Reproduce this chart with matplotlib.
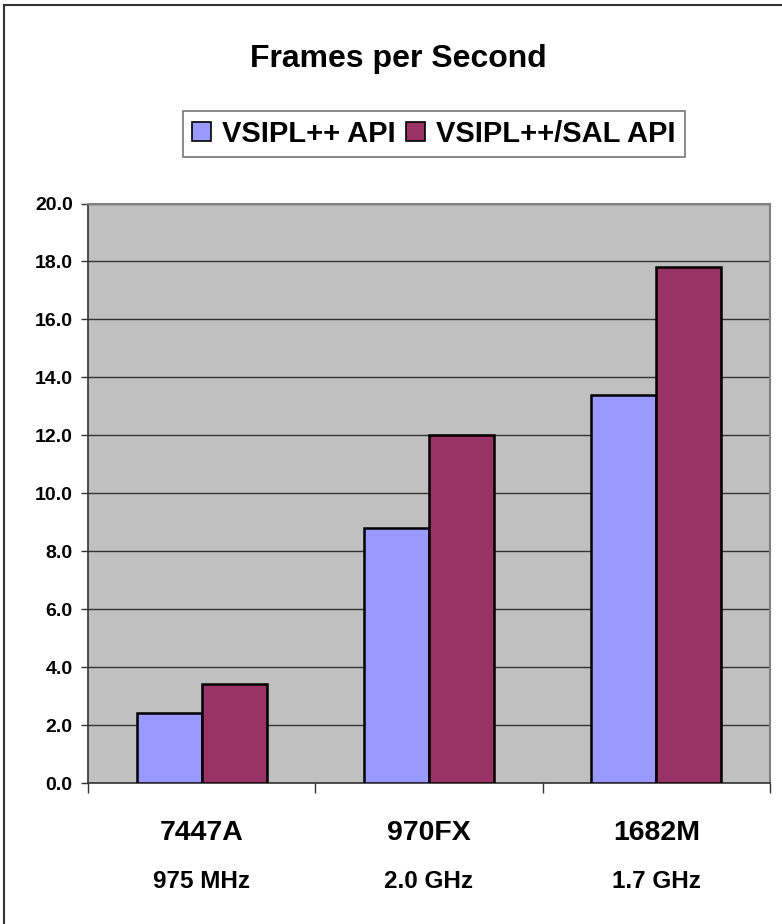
import numpy as np
import matplotlib.pyplot as plt
from matplotlib.patches import Patch
from matplotlib.lines import Line2D

plt.rcParams['font.family'] = ['Liberation Sans', 'DejaVu Sans']
plt.rcParams['font.weight'] = 'bold'

# data
chips = ['7447A', '970FX', '1682M']
clocks = ['975 MHz', '2.0 GHz', '1.7 GHz']
series_names = ['VSIPL++ API', 'VSIPL++/SAL API']
vsipl = [2.4, 8.8, 13.4]
vsipl_sal = [3.4, 12.0, 17.8]
yticks = np.arange(0, 20.1, 2.0)

colors = ['#9999FF', '#993366']


def main():
    fig = plt.figure(figsize=(7.82, 9.24), dpi=100)
    ax = fig.add_axes([88/782, 1-783/924, (770-88)/782, (783-203.5)/924])
    ax.set_facecolor('#C0C0C0')

    x = np.arange(len(chips))
    w = 1/3.5
    for k, vals in enumerate([vsipl, vsipl_sal]):
        ax.bar(x + (k-0.5)*w, vals, width=w, color=colors[k],
               edgecolor='black', linewidth=1.8, zorder=3)

    ax.set_xlim(-0.5, len(chips)-0.5)
    ax.set_ylim(0, 20)
    ax.set_yticks(yticks)
    ax.set_yticklabels(['%.1f' % v for v in yticks], fontsize=14, fontweight='bold')
    ax.yaxis.grid(True, color='#333333', linewidth=1.0, zorder=1)
    ax.set_axisbelow(True)

    # category boundary ticks, labels as text
    ax.set_xticks(np.arange(-0.5, len(chips), 1.0))
    ax.set_xticklabels([])
    ax.tick_params(axis='x', direction='out', length=7.5, width=1, color='#333333')
    ax.tick_params(axis='y', direction='out', length=5, width=1, color='#333333', pad=6)
    trans = ax.get_xaxis_transform()
    for i in range(len(chips)):
        ax.text(x[i], -(840-783)/579.5, chips[i], transform=trans,
                ha='center', va='baseline', fontsize=20.5, fontweight='bold')
        ax.text(x[i], -(888-783)/579.5, clocks[i], transform=trans,
                ha='center', va='baseline', fontsize=17.5, fontweight='bold')

    for side in ['top', 'right']:
        ax.spines[side].set_color('#808080')
        ax.spines[side].set_linewidth(1.5)
    for side in ['left', 'bottom']:
        ax.spines[side].set_color('#333333')
        ax.spines[side].set_linewidth(1.2)

    fig.text(398/782, 1-67.3/924, 'Frames per Second', ha='center', va='baseline',
             fontsize=23, fontweight='bold')

    handles = [Patch(facecolor=colors[k], edgecolor='black', linewidth=1.2)
               for k in range(2)]
    leg = fig.legend(handles, series_names, loc='center', ncol=2,
                     bbox_to_anchor=(434/782, 1-134/924), frameon=True,
                     fancybox=False, edgecolor='#555555', fontsize=21,
                     handlelength=0.65, handleheight=0.65, handletextpad=0.38,
                     columnspacing=0.37, borderpad=0.3, borderaxespad=0)
    leg.get_frame().set_linewidth(1.2)
    for t in leg.get_texts():
        t.set_fontweight('bold')

    # outer chart frame (only left and top edges fall inside the image)
    fig.add_artist(Line2D([4/782, 4/782], [0, 1-5/924], color='#333333', linewidth=1.5))
    fig.add_artist(Line2D([4/782, 1], [1-5/924, 1-5/924], color='#333333', linewidth=1.5))

    fig.savefig('out.png', dpi=100)


main()
